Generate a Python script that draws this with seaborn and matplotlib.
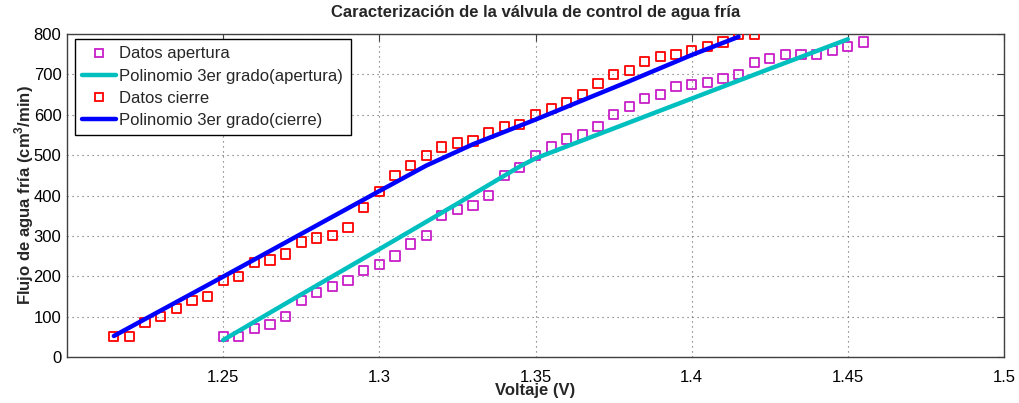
import numpy as np
import pandas as pd
import matplotlib
matplotlib.use("Agg")
import matplotlib.pyplot as plt
from matplotlib.lines import Line2D
import seaborn as sns

# Opening sweep: voltage (V) and measured cold-water flow (cm^3/min)
voltaje_apertura = [1.250, 1.255, 1.260, 1.265, 1.270, 1.275, 1.280, 1.285, 1.290, 1.295,
                    1.300, 1.305, 1.310, 1.315, 1.320, 1.325, 1.330, 1.335, 1.340, 1.345,
                    1.350, 1.355, 1.360, 1.365, 1.370, 1.375, 1.380, 1.385, 1.390, 1.395,
                    1.400, 1.405, 1.410, 1.415, 1.420, 1.425, 1.430, 1.435, 1.440, 1.445,
                    1.450, 1.455]
flujo_apertura = [50, 50, 70, 80, 100, 140, 160, 175, 190, 215,
                  230, 250, 280, 300, 350, 365, 375, 400, 450, 470,
                  500, 520, 540, 550, 570, 600, 620, 640, 650, 670,
                  675, 680, 690, 700, 730, 740, 750, 750, 750, 760,
                  770, 780]

# Closing sweep
voltaje_cierre = [1.215, 1.220, 1.225, 1.230, 1.235, 1.240, 1.245, 1.250, 1.255, 1.260,
                  1.265, 1.270, 1.275, 1.280, 1.285, 1.290, 1.295, 1.300, 1.305, 1.310,
                  1.315, 1.320, 1.325, 1.330, 1.335, 1.340, 1.345, 1.350, 1.355, 1.360,
                  1.365, 1.370, 1.375, 1.380, 1.385, 1.390, 1.395, 1.400, 1.405, 1.410,
                  1.415, 1.420]
flujo_cierre = [50, 50, 85, 100, 120, 140, 150, 190, 200, 235,
                240, 255, 285, 295, 300, 320, 370, 410, 450, 475,
                500, 520, 530, 535, 555, 570, 575, 600, 615, 630,
                650, 678, 700, 710, 732, 745, 750, 760, 770, 780,
                800, 800]

# Fitted curves (piecewise cubic fits)
voltaje_fit_apertura = [1.250, 1.275, 1.300, 1.325, 1.345, 1.350, 1.375, 1.400, 1.425, 1.450]
flujo_fit_apertura = [42, 155, 267, 380, 472, 492, 566, 640, 714, 787]
voltaje_fit_cierre = [1.215, 1.250, 1.275, 1.300, 1.315, 1.330, 1.350, 1.380, 1.400, 1.415]
flujo_fit_cierre = [52, 199, 305, 411, 474, 527, 588, 683, 748, 793]

x_ticks = [1.25, 1.30, 1.35, 1.40, 1.45, 1.50]
x_ticklabels = ["1.25", "1.3", "1.35", "1.4", "1.45", "1.5"]
y_ticks = [0, 100, 200, 300, 400, 500, 600, 700, 800]

titulo = "Caracterización de la válvula de control de agua fría"
etiqueta_x = "Voltaje (V)"
etiqueta_y = r"Flujo de agua fría (cm$^{\mathbf{3}}$/min)"
leyenda = ["Datos apertura", "Polinomio 3er grado(apertura)",
           "Datos cierre", "Polinomio 3er grado(cierre)"]

c_ap_pts = "#c81ec8"
c_ap_fit = "#00bfbf"
c_ci_pts = "#ff0000"
c_ci_fit = "#0000ff"

sns.set_style("white")
plt.rcParams["font.family"] = ["Liberation Sans", "DejaVu Sans"]
plt.rcParams["mathtext.fontset"] = "custom"
plt.rcParams["mathtext.rm"] = "Liberation Sans"
plt.rcParams["mathtext.bf"] = "Liberation Sans:bold"

df_ap = pd.DataFrame({"v": voltaje_apertura, "q": flujo_apertura})
df_ci = pd.DataFrame({"v": voltaje_cierre, "q": flujo_cierre})
df_fap = pd.DataFrame({"v": voltaje_fit_apertura, "q": flujo_fit_apertura})
df_fci = pd.DataFrame({"v": voltaje_fit_cierre, "q": flujo_fit_cierre})

fig = plt.figure(figsize=(10.19, 4.03), dpi=100)
ax = fig.add_axes([67 / 1019, 46 / 403, 937 / 1019, 323 / 403])

marker_kw = dict(marker="s", s=44, facecolors="none", linewidth=1.3, zorder=3)
sns.scatterplot(data=df_ap, x="v", y="q", ax=ax, edgecolor=c_ap_pts, **marker_kw)
sns.lineplot(data=df_fap, x="v", y="q", ax=ax, color=c_ap_fit, linewidth=3.2,
             sort=False, estimator=None, zorder=4)
sns.scatterplot(data=df_ci, x="v", y="q", ax=ax, edgecolor=c_ci_pts, **marker_kw)
sns.lineplot(data=df_fci, x="v", y="q", ax=ax, color=c_ci_fit, linewidth=3.2,
             sort=False, estimator=None, zorder=4)

ax.set_xlim(1.2, 1.5)
ax.set_ylim(0, 800)
ax.set_xticks(x_ticks)
ax.set_xticklabels(x_ticklabels)
ax.set_yticks(y_ticks)
ax.tick_params(axis="both", direction="in", length=5, width=0.8, color="#404040",
               labelsize=12, labelcolor="black", top=True, right=True, pad=4)
ax.tick_params(axis="x", pad=9)
for sp in ax.spines.values():
    sp.set_color("#404040")
    sp.set_linewidth(1.0)
ax.grid(True, linestyle=(0, (1, 3.5)), color="#606060", linewidth=0.8)

ax.set_title(titulo, fontsize=12, fontweight="bold", pad=12)
ax.set_xlabel(etiqueta_x, fontsize=12, fontweight="bold", labelpad=-1)
ax.set_ylabel(etiqueta_y, fontsize=12, fontweight="bold", labelpad=-2)

handles = [
    Line2D([], [], linestyle="none", marker="s", markersize=6, markerfacecolor="none",
           markeredgecolor=c_ap_pts, markeredgewidth=1.3),
    Line2D([], [], color=c_ap_fit, linewidth=3.2),
    Line2D([], [], linestyle="none", marker="s", markersize=6, markerfacecolor="none",
           markeredgecolor=c_ci_pts, markeredgewidth=1.3),
    Line2D([], [], color=c_ci_fit, linewidth=3.2),
]
leg = ax.legend(handles, leyenda, loc="upper left", bbox_to_anchor=(0.0085, 0.985),
                fontsize=12, frameon=True, fancybox=False, edgecolor="black",
                framealpha=1, borderpad=0.45, labelspacing=0.43, handlelength=2.0,
                handletextpad=0.2, borderaxespad=0)
leg.get_frame().set_linewidth(1.0)

fig.savefig("out.png", dpi=100)
